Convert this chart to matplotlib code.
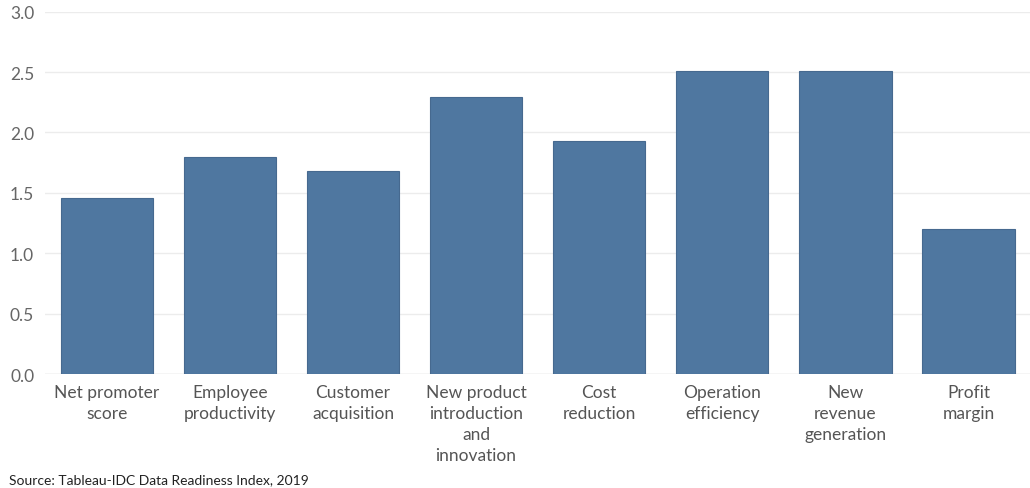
import numpy as np
import matplotlib
matplotlib.use('Agg')
import matplotlib.pyplot as plt

categories = ['Net promoter\nscore', 'Employee\nproductivity', 'Customer\nacquisition',
              'New product\nintroduction\nand\ninnovation', 'Cost\nreduction',
              'Operation\nefficiency', 'New\nrevenue\ngeneration', 'Profit\nmargin']
values = [1.46, 1.80, 1.68, 2.29, 1.93, 2.51, 2.51, 1.20]
yticks = [0.0, 0.5, 1.0, 1.5, 2.0, 2.5, 3.0]
source = 'Source: Tableau-IDC Data Readiness Index, 2019'

plt.rcParams['font.family'] = ['Lato', 'DejaVu Sans']

fig = plt.figure(figsize=(10.30, 4.89), dpi=100)
ax = fig.add_axes([0.044, 0.233, 0.956, 0.741])

x = np.arange(len(categories))
ax.bar(x, values, width=0.75, color='#4f77a0', edgecolor='#46698f', linewidth=0.8, zorder=3)

ax.set_xlim(-0.5, len(categories) - 0.5)
ax.set_ylim(0, 3.0)
ax.set_yticks(yticks)
ax.set_yticklabels([f'{v:.1f}' for v in yticks], fontsize=12.5, color='#666666')
ax.set_xticks(x)
ax.set_xticklabels(categories, fontsize=12.5, color='#555555', linespacing=1.4)
ax.tick_params(axis='both', length=0)
ax.tick_params(axis='x', pad=7)
ax.tick_params(axis='y', pad=8)
ax.grid(axis='y', color='#ececec', linewidth=1.0, zorder=0)
for s in ax.spines.values():
    s.set_visible(False)
ax.axhline(0, color='#dddddd', linewidth=1.0, zorder=1)

fig.text(0.009, 0.010, source, fontsize=10, color='#222222')

plt.savefig('out.png', dpi=100)
